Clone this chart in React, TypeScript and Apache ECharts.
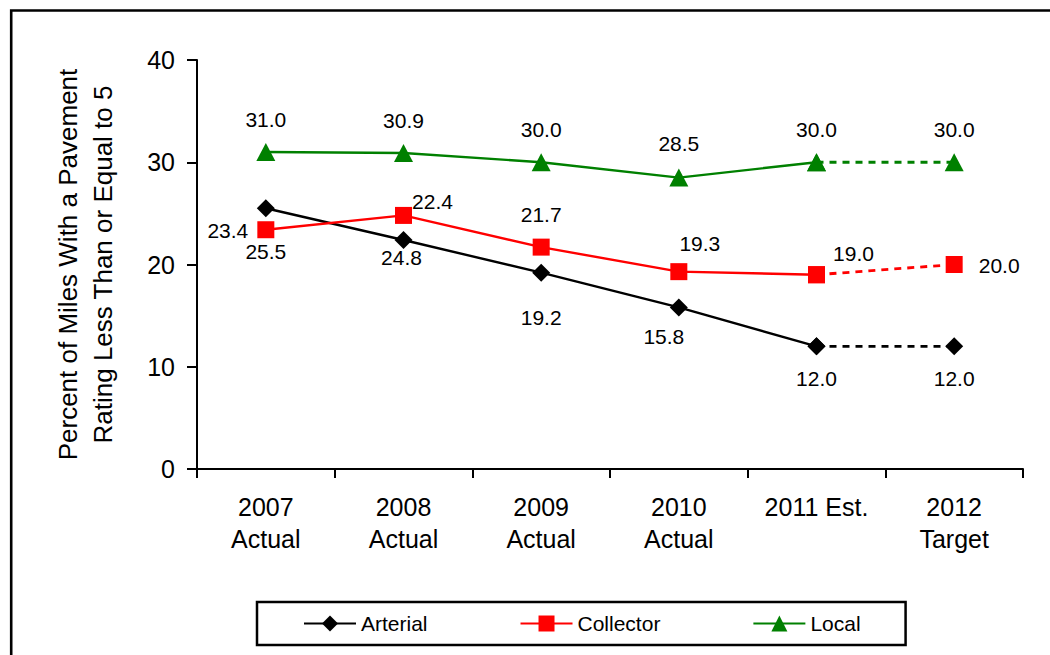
import React, { useEffect, useRef } from "react";
import * as echarts from "echarts";

const categories = ["2007\nActual", "2008\nActual", "2009\nActual", "2010\nActual", "2011 Est.", "2012\nTarget"];
const yTicks = { min: 0, max: 40, interval: 10 };

const arterial = [25.5, 22.4, 19.2, 15.8, 12.0, 12.0];
const collector = [23.4, 24.8, 21.7, 19.3, 19.0, 20.0];
const local = [31.0, 30.9, 30.0, 28.5, 30.0, 30.0];

// data-label texts as printed on the chart
const arterialLabels = ["25.5", "24.8", "19.2", "15.8", "12.0", "12.0"];
const collectorLabels = ["23.4", "22.4", "21.7", "19.3", "19.0", "20.0"];
const localLabels = ["31.0", "30.9", "30.0", "28.5", "30.0", "30.0"];

// number of actual/estimate points drawn with a solid line (rest dashed)
const solidCount = 5;

// label offsets (styling, px from marker centre)
const arterialOffsets = [[0, 43], [-2, 18], [0, 45], [-15, 29], [0, 32], [0, 32]];
const collectorOffsets = [[-38, 1], [29, -14], [0, -33], [21, -28], [37, -21], [45, 1]];
const localOffsets = [[0, -33], [0, -33], [0, -33], [0, -34], [0, -33], [0, -33]];

const FONT = "'Liberation Sans', Arial, Helvetica, sans-serif";

function buildSeries(
  name: string,
  values: number[],
  labels: string[],
  offsets: number[][],
  color: string,
  symbol: string,
  symbolSize: any
) {
  const labelBase = {
    show: true,
    position: "inside",
    align: "center",
    verticalAlign: "middle",
    fontSize: 21,
    fontFamily: FONT,
    color: "#000",
    formatter: (p: any) => labels[p.dataIndex],
  };
  const solid = values.map((v, i) =>
    i < solidCount ? { value: v, label: { offset: offsets[i] } } : "-"
  );
  const dashed = values.map((v, i) =>
    i >= solidCount - 1 ? { value: v, label: { show: i >= solidCount, offset: offsets[i] } } : "-"
  );
  return [
    {
      name,
      type: "line",
      data: solid,
      symbol,
      symbolSize,
      showAllSymbol: true,
      lineStyle: { color, width: 2.4 },
      itemStyle: { color },
      label: labelBase,
      emphasis: { disabled: true },
      connectNulls: false,
    },
    {
      name,
      type: "line",
      data: dashed,
      symbol,
      symbolSize,
      showAllSymbol: true,
      lineStyle: { color, width: 2.8, type: [7, 6] },
      itemStyle: { color },
      label: labelBase,
      emphasis: { disabled: true },
      connectNulls: false,
    },
  ];
}

export default function App() {
  const ref = useRef<HTMLDivElement>(null);

  useEffect(() => {
    if (!ref.current) return;
    const chart = echarts.init(ref.current, null, { renderer: "svg" });
    const option: any = {
      animation: false,
      backgroundColor: "#fff",
      textStyle: { fontFamily: FONT, color: "#000" },
      grid: { left: 197, right: 27, top: 60, bottom: 186, containLabel: false },
      xAxis: {
        type: "category",
        data: categories,
        boundaryGap: true,
        axisLine: { show: true, lineStyle: { color: "#000", width: 2 } },
        axisTick: { show: true, alignWithLabel: false, length: 9, lineStyle: { color: "#000", width: 2 } },
        axisLabel: {
          interval: 0,
          margin: 22,
          fontSize: 25,
          lineHeight: 32,
          color: "#000",
          fontFamily: FONT,
        },
        splitLine: { show: false },
      },
      yAxis: {
        type: "value",
        min: yTicks.min,
        max: yTicks.max,
        interval: yTicks.interval,
        name: "Percent of Miles With a Pavement\nRating Less Than or Equal to 5",
        nameLocation: "middle",
        nameRotate: 90,
        nameGap: 77,
        nameTextStyle: { fontSize: 26, lineHeight: 35, color: "#000", fontFamily: FONT },
        axisLine: { show: true, lineStyle: { color: "#000", width: 2 } },
        axisTick: { show: true, length: 10, lineStyle: { color: "#000", width: 2 } },
        axisLabel: { margin: 22, fontSize: 25, color: "#000", fontFamily: FONT },
        splitLine: { show: false },
      },
      legend: {
        data: ["Arterial", "Collector", "Local"],
        orient: "horizontal",
        left: 257,
        top: 602,
        padding: [11, 45, 11, 46],
        itemGap: 92,
        itemWidth: 52,
        itemHeight: 20,
        borderColor: "#000",
        borderWidth: 2.5,
        textStyle: { fontSize: 21, color: "#000", fontFamily: FONT },
        selectedMode: false,
      },
      graphic: [
        {
          type: "rect",
          left: 8.7,
          top: 8,
          shape: { x: 0, y: 0, width: 1200, height: 800 },
          style: { fill: "none", stroke: "#000", lineWidth: 2.6 },
          silent: true,
          z: -1,
        },
      ],
      series: [
        ...buildSeries("Arterial", arterial, arterialLabels, arterialOffsets, "#000000", "diamond", [18, 18]),
        ...buildSeries("Collector", collector, collectorLabels, collectorOffsets, "#FF0000", "rect", [17, 17]),
        ...buildSeries("Local", local, localLabels, localOffsets, "#008000", "triangle", [19, 18]),
      ],
    };
    chart.setOption(option);
    return () => {
      chart.dispose();
    };
  }, []);

  return (
    <div
      ref={ref}
      style={{ position: "fixed", left: 0, top: 0, width: 1050, height: 655, background: "#fff" }}
    />
  );
}
